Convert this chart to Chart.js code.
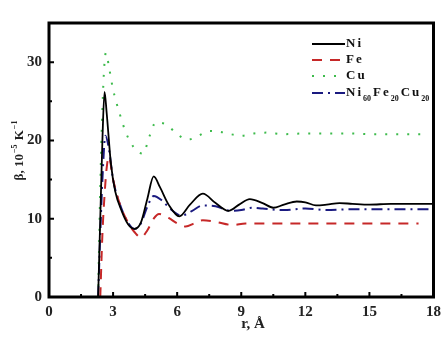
<!DOCTYPE html>
<html>
<head>
<meta charset="utf-8">
<script src="https://cdn.jsdelivr.net/npm/chart.js@4"></script>
<style>
  body { margin: 0; background: #fff; }
  #wrap { width: 447px; height: 351px; }
</style>
</head>
<body>
<div id="wrap"><canvas id="myChart"></canvas></div>
<script>
// values: [r (Å), beta (10^-5 K^-1)]
var niData = [[2.3,0],[2.4,10],[2.5,20],[2.6,26.2],[2.7,23.5],[2.9,17],[3.1,13.5],[3.4,11],[3.7,9.3],[4.0,8.7],[4.3,9.5],[4.6,12.5],[4.9,15.4],[5.2,14],[5.6,11.8],[6.1,10.3],[6.6,11.8],[7.2,13.2],[7.8,12],[8.4,11],[8.9,11.8],[9.4,12.5],[10,12],[10.5,11.4],[11,11.8],[11.6,12.2],[12,12.1],[12.5,11.7],[13,11.8],[13.6,12.0],[14.2,11.9],[15,11.8],[16,11.9],[17,11.9],[18,11.9]];
var feData = [[2.4,0],[2.5,8],[2.6,13],[2.7,16.5],[2.8,17.9],[3.0,15],[3.3,12],[3.7,9.5],[4.0,8.3],[4.3,7.6],[4.6,8.5],[4.9,10],[5.15,10.6],[5.6,10.1],[6.0,9.4],[6.4,9.0],[6.8,9.4],[7.2,9.8],[7.8,9.6],[8.6,9.2],[9.2,9.4],[10,9.4],[12,9.4],[14,9.4],[16,9.4],[17.3,9.4]];
var cuData = [[2.3,0],[2.4,14],[2.5,24],[2.6,30],[2.67,31.2],[2.8,29.5],[3.0,26.5],[3.3,23.5],[3.6,21],[4.0,19],[4.4,18.3],[4.7,20.5],[5.0,22.3],[5.5,22],[6.0,20.8],[6.5,20.1],[7.0,20.6],[7.5,21.2],[8.0,21.1],[8.5,20.8],[9.0,20.6],[9.6,20.9],[10.2,21.0],[11,20.8],[12,20.9],[13,20.9],[14,20.9],[15,20.8],[16,20.8],[17.7,20.8]];
var alloyData = [[2.3,0],[2.4,8],[2.5,15],[2.64,20.6],[2.8,19],[3.0,15],[3.3,12],[3.7,9.5],[4.0,8.7],[4.3,9.4],[4.6,11.5],[4.9,12.9],[5.3,12.3],[5.7,11.2],[6.2,10.4],[6.7,11.0],[7.2,11.7],[7.8,11.6],[8.5,11.0],[9.0,11.1],[9.5,11.4],[10,11.3],[11,11.1],[12,11.3],[13,11.1],[14,11.2],[15,11.2],[16,11.2],[17.9,11.2]];

var xTicks = [0, 3, 6, 9, 12, 15, 18];
var yTicks = [0, 10, 20, 30];
var xMinor = [1.5, 4.5, 7.5, 10.5, 13.5, 16.5];
var yMinor = [5, 15, 25];

// legend label parts: [text, isSubscript]
var legendParts = [
    [['Ni', false]],
    [['Fe', false]],
    [['Cu', false]],
    [['Ni', false], ['60', true], ['Fe', false], ['20', true], ['Cu', false], ['20', true]]
];

function pts(arr) {
    return arr.map(function(p) { return { x: p[0], y: p[1] }; });
}

var serif = '"Liberation Serif", "Times New Roman", serif';

var framePlugin = {
    id: 'frame',
    afterDraw: function(chart) {
        var ctx = chart.ctx;
        var a = chart.chartArea;
        var xs = chart.scales.x, ys = chart.scales.y;
        ctx.save();
        ctx.strokeStyle = '#000';
        ctx.lineWidth = 3;
        ctx.strokeRect(a.left, a.top, a.right - a.left, a.bottom - a.top);

        // inward ticks
        ctx.lineWidth = 2;
        ctx.beginPath();
        xTicks.forEach(function(v) {
            var px = xs.getPixelForValue(v);
            ctx.moveTo(px, a.bottom); ctx.lineTo(px, a.bottom - 5);
        });
        xMinor.forEach(function(v) {
            var px = xs.getPixelForValue(v);
            ctx.moveTo(px, a.bottom); ctx.lineTo(px, a.bottom - 3);
        });
        yTicks.forEach(function(v) {
            var py = ys.getPixelForValue(v);
            ctx.moveTo(a.left, py); ctx.lineTo(a.left + 5, py);
        });
        yMinor.forEach(function(v) {
            var py = ys.getPixelForValue(v);
            ctx.moveTo(a.left, py); ctx.lineTo(a.left + 3, py);
        });
        ctx.stroke();

        // axis titles
        ctx.fillStyle = '#222';
        ctx.font = 'bold 15px ' + serif;
        ctx.textAlign = 'center';
        ctx.textBaseline = 'middle';
        ctx.fillText('r, Å', 253, 324);

        // y title, rotated, with superscripts
        var parts = [['β, 10', 13, 0], ['−5', 8, -5], [' K', 13, 0], ['−1', 8, -5]];
        var total = 0;
        parts.forEach(function(p) {
            ctx.font = 'bold ' + p[1] + 'px ' + serif;
            total += ctx.measureText(p[0]).width + 1;
        });
        ctx.translate(20, 150);
        ctx.rotate(-Math.PI / 2);
        ctx.textAlign = 'left';
        var x0 = -total / 2;
        parts.forEach(function(p) {
            ctx.font = 'bold ' + p[1] + 'px ' + serif;
            ctx.fillText(p[0], x0, p[2]);
            x0 += ctx.measureText(p[0]).width + 1;
        });
        ctx.restore();

        // legend
        ctx.save();
        var rowsY = [44, 60, 76, 93];
        chart.data.datasets.forEach(function(ds, i) {
            var y = rowsY[i];
            ctx.strokeStyle = ds.borderColor;
            ctx.lineWidth = ds.borderWidth;
            ctx.setLineDash(ds.borderDash || []);
            ctx.beginPath();
            ctx.moveTo(312, y); ctx.lineTo(345, y);
            ctx.stroke();
            ctx.setLineDash([]);
            ctx.fillStyle = '#111';
            ctx.textBaseline = 'middle';
            ctx.textAlign = 'left';
            var x = 346;
            legendParts[i].forEach(function(part) {
                if (part[1]) {
                    ctx.font = 'bold 8px ' + serif;
                    ctx.fillText(part[0], x, y + 6);
                    x += ctx.measureText(part[0]).width + 2;
                } else {
                    ctx.font = 'bold 13px ' + serif;
                    for (var k = 0; k < part[0].length; k++) {
                        ctx.fillText(part[0][k], x, y);
                        x += ctx.measureText(part[0][k]).width + 2;
                    }
                }
            });
        });
        ctx.restore();
    }
};

var ctx = document.getElementById('myChart').getContext('2d');
var myChart = new Chart(ctx, {
    type: 'scatter',
    data: {
        datasets: [{
            label: 'Ni',
            data: pts(niData),
            showLine: true,
            borderColor: '#000000',
            borderWidth: 1.8,
            pointRadius: 0,
            cubicInterpolationMode: 'monotone'
        }, {
            label: 'Fe',
            data: pts(feData),
            showLine: true,
            borderColor: '#c62828',
            borderWidth: 2,
            borderDash: [10, 8],
            pointRadius: 0,
            cubicInterpolationMode: 'monotone'
        }, {
            label: 'Cu',
            data: pts(cuData),
            showLine: true,
            borderColor: '#3dbb4c',
            borderWidth: 2,
            borderDash: [2, 9],
            pointRadius: 0,
            cubicInterpolationMode: 'monotone'
        }, {
            label: 'Ni60Fe20Cu20',
            data: pts(alloyData),
            showLine: true,
            borderColor: '#1a1a80',
            borderWidth: 2,
            borderDash: [11, 5, 2, 5],
            pointRadius: 0,
            cubicInterpolationMode: 'monotone'
        }]
    },
    options: {
        responsive: true,
        maintainAspectRatio: false,
        animation: false,
        layout: { padding: { top: 23, right: 9, left: 0, bottom: 0 } },
        plugins: {
            legend: { display: false },
            tooltip: { enabled: false }
        },
        scales: {
            x: {
                type: 'linear',
                min: 0,
                max: 18,
                afterFit: function(scale) { scale.height = 54; },
                afterBuildTicks: function(scale) {
                    scale.ticks = xTicks.map(function(v) { return { value: v }; });
                },
                grid: { display: false, drawTicks: false },
                border: { display: false },
                ticks: {
                    padding: 6,
                    color: '#222',
                    font: { family: serif, size: 15, weight: 'bold' }
                }
            },
            y: {
                min: 0,
                max: 35,
                afterFit: function(scale) { scale.width = 49; },
                afterBuildTicks: function(scale) {
                    scale.ticks = yTicks.map(function(v) { return { value: v }; });
                },
                grid: { display: false, drawTicks: false },
                border: { display: false },
                ticks: {
                    padding: 7,
                    color: '#222',
                    font: { family: serif, size: 15, weight: 'bold' }
                }
            }
        }
    },
    plugins: [framePlugin]
});
</script>
</body>
</html>
